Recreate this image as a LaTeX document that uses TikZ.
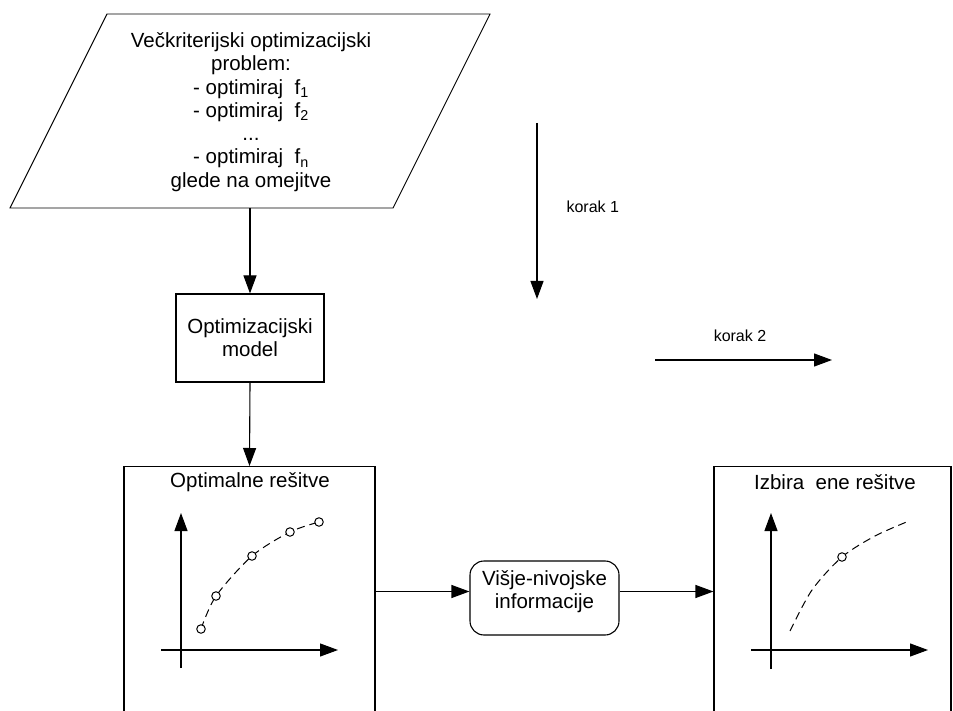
\documentclass[tikz,border=0pt]{standalone}
\usepackage{fontspec}
\setmainfont{Liberation Sans}
\usetikzlibrary{arrows.meta}
\begin{document}
\begin{tikzpicture}[x=1pt,y=-1pt,
  line width=1.1pt,
  arr/.style={-{Triangle[length=18pt,width=13pt]}},
  txt/.style={font=\fontsize{20.5}{23.3}\selectfont, align=center, inner sep=0pt},
  small/.style={font=\fontsize{16}{19}\selectfont, inner sep=0pt},
  frame/.style={draw, minimum width=#1, minimum height=280pt, anchor=north, inner sep=0pt},
  pt/.style={circle, draw, fill=white, line width=1pt, minimum size=8.5pt, inner sep=0pt},
  curve/.style={dash pattern=on 8pt off 5pt, line width=1pt},
]
\useasboundingbox (0,0) rectangle (953,711);
\clip (0,0) rectangle (953,711);

% problem statement (parallelogram)
\draw[line width=0.9pt] (107,14) -- (490,14) -- (393,208) -- (10,208) -- cycle;
\node[txt] (prob) at (251,112) {Večkriterijski optimizacijski\\problem:\\- optimiraj\ \ f\textsubscript{1}\\- optimiraj\ \ f\textsubscript{2}\\...\\- optimiraj\ \ f\textsubscript{n}\\glede na omejitve};
\coordinate (pbot) at (250,208);

% optimisation model
\node[txt, draw, minimum width=148pt, minimum height=88pt] (model) at (250,338) {Optimizacijski\\model};
\draw[arr] (pbot) -- (model.north);

% optimal solutions frame
\node[frame=251pt] (opt) at (249.5,466) {};
\node[txt] (optT) at (250,482) {Optimalne rešitve};
\draw[arr] (model.south) -- (opt.north);

% higher-level information
\node[draw, rounded corners=14pt, minimum width=149pt, minimum height=74pt] (info) at (544.5,598) {};
\node[txt] (infoT) at (544.5,591.5) {Višje-nivojske\\informacije};

% selection frame
\node[frame=237pt] (sel) at (832.5,466) {};
\node[txt] (selT) at (835,482) {Izbira\ \ ene rešitve};

\draw[arr] (opt.east |- infoT) -- (info.west |- infoT);
\draw[arr] (info.east |- infoT) -- (sel.west |- infoT);

% left graph: Pareto front
\coordinate (ly0) at (181,668); \coordinate (ly1) at (181,513);
\coordinate (lx0) at (161,650); \coordinate (lx1) at (338,650);
\draw[arr] (ly0) -- (ly1);
\draw[arr] (lx0) -- (lx1);
\draw[curve] plot[smooth] coordinates {(201,629) (216,596) (252,556) (290,532) (319,522)};
\node[pt] (p1) at (201,629) {};
\node[pt] (p2) at (216,596) {};
\node[pt] (p3) at (252,556) {};
\node[pt] (p4) at (290,532) {};
\node[pt] (p5) at (319,522) {};

% right graph: chosen solution
\coordinate (ry0) at (771,669); \coordinate (ry1) at (771,513);
\coordinate (rx0) at (751,650); \coordinate (rx1) at (928,650);
\draw[arr] (ry0) -- (ry1);
\draw[arr] (rx0) -- (rx1);
\draw[curve] plot[smooth] coordinates {(790,631) (812,590) (842,557) (875,536) (909,521)};
\node[pt] (q1) at (842,557) {};

% step indicators
\coordinate (k1a) at (537,123); \coordinate (k1b) at (537,299);
\draw[arr] (k1a) -- (k1b);
\node[small, anchor=west] (k1) at (566,207) {korak 1};
\coordinate (k2a) at (655,360); \coordinate (k2b) at (832,360);
\draw[arr] (k2a) -- (k2b);
\node[small] (k2) at (740,336) {korak 2};
\end{tikzpicture}
\end{document}
